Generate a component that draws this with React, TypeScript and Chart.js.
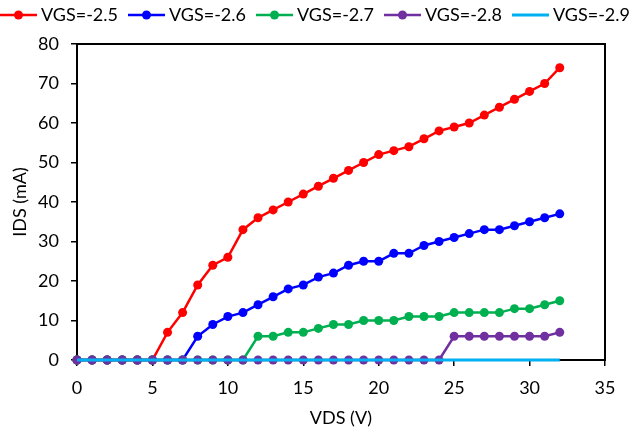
import React, { useEffect, useRef } from "react";
import { Chart, registerables } from "chart.js";

Chart.register(...registerables);

const VDS = [0, 1, 2, 3, 4, 5, 6, 7, 8, 9, 10, 11, 12, 13, 14, 15, 16, 17, 18, 19, 20, 21, 22, 23, 24, 25, 26, 27, 28, 29, 30, 31, 32];
const IDS_25 = [0, 0, 0, 0, 0, 0, 7, 12, 19, 24, 26, 33, 36, 38, 40, 42, 44, 46, 48, 50, 52, 53, 54, 56, 58, 59, 60, 62, 64, 66, 68, 70, 74];
const IDS_26 = [0, 0, 0, 0, 0, 0, 0, 0, 6, 9, 11, 12, 14, 16, 18, 19, 21, 22, 24, 25, 25, 27, 27, 29, 30, 31, 32, 33, 33, 34, 35, 36, 37];
const IDS_27 = [0, 0, 0, 0, 0, 0, 0, 0, 0, 0, 0, 0, 6, 6, 7, 7, 8, 9, 9, 10, 10, 10, 11, 11, 11, 12, 12, 12, 12, 13, 13, 14, 15];
const IDS_28 = [0, 0, 0, 0, 0, 0, 0, 0, 0, 0, 0, 0, 0, 0, 0, 0, 0, 0, 0, 0, 0, 0, 0, 0, 0, 6, 6, 6, 6, 6, 6, 6, 7];
const IDS_29 = [0, 0, 0, 0, 0, 0, 0, 0, 0, 0, 0, 0, 0, 0, 0, 0, 0, 0, 0, 0, 0, 0, 0, 0, 0, 0, 0, 0, 0, 0, 0, 0, 0];

const SERIES_LABELS = ["VGS=-2.5", "VGS=-2.6", "VGS=-2.7", "VGS=-2.8", "VGS=-2.9"];
const SERIES_COLORS = ["#FF0000", "#0000FF", "#00B050", "#7030A0", "#00B0F0"];
const SERIES_VALUES = [IDS_25, IDS_26, IDS_27, IDS_28, IDS_29];
const SERIES_MARKERS = [true, true, true, true, false];

const X_TICKS = [0, 5, 10, 15, 20, 25, 30, 35];
const Y_TICKS = [0, 10, 20, 30, 40, 50, 60, 70, 80];

const FONT = "Lato";

function legendImage(color: string, marker: boolean): HTMLCanvasElement {
  const c = document.createElement("canvas");
  c.width = 52;
  c.height = 12;
  const ctx = c.getContext("2d")!;
  ctx.strokeStyle = color;
  ctx.lineWidth = marker ? 2.5 : 3;
  ctx.beginPath();
  ctx.moveTo(15, 6);
  ctx.lineTo(52, 6);
  ctx.stroke();
  if (marker) {
    ctx.fillStyle = color;
    ctx.beginPath();
    ctx.arc(33.5, 6, 4.5, 0, Math.PI * 2);
    ctx.fill();
  }
  return c;
}

export default function App() {
  const ref = useRef<HTMLCanvasElement | null>(null);

  useEffect(() => {
    document.body.style.margin = "0";
    if (!ref.current) return;
    const images = SERIES_COLORS.map((c, i) => legendImage(c, SERIES_MARKERS[i]));
    const datasets = SERIES_LABELS.map((label, i) => ({
      label,
      data: VDS.map((x, j) => ({ x, y: SERIES_VALUES[i][j] })),
      borderColor: SERIES_COLORS[i],
      backgroundColor: SERIES_COLORS[i],
      borderWidth: SERIES_MARKERS[i] ? 2.5 : 3,
      pointRadius: SERIES_MARKERS[i] ? 4.5 : 0,
      pointBorderWidth: 0,
      pointHoverRadius: SERIES_MARKERS[i] ? 4.5 : 0,
      tension: 0,
      clip: false as any,
      order: SERIES_LABELS.length - 1 - i,
    }));

    const axisFont = { family: FONT, size: 18 };

    const chart = new Chart(ref.current, {
      type: "line",
      data: { datasets },
      options: {
        animation: false,
        responsive: false,
        devicePixelRatio: 1,
        layout: { padding: { left: -10, top: 6, right: -30, bottom: 0 } },
        plugins: {
          tooltip: { enabled: false },
          legend: {
            display: true,
            position: "top",
            align: "start",
            labels: {
              usePointStyle: true,
              pointStyleWidth: 42,
              padding: 0,
              color: "#000",
              font: { family: FONT, size: 18 },
              generateLabels: (ch: any) =>
                ch.data.datasets.map((ds: any, i: number) => ({
                  text: ds.label,
                  fillStyle: SERIES_COLORS[i],
                  strokeStyle: SERIES_COLORS[i],
                  lineWidth: 0,
                  pointStyle: images[i],
                  hidden: false,
                  datasetIndex: i,
                  fontColor: "#000",
                })),
            },
          },
        },
        scales: {
          x: {
            type: "linear",
            position: "bottom",
            min: 0,
            max: 35,
            afterBuildTicks: (s: any) => {
              s.ticks = X_TICKS.map((v) => ({ value: v }));
            },
            afterFit: (s: any) => {
              s.height = 73;
            },
            grid: { drawOnChartArea: false, drawTicks: true, tickLength: 6, color: "#000", lineWidth: 1.5 },
            border: { display: true, color: "#000", width: 2 },
            ticks: { color: "#000", font: axisFont, padding: 11, maxRotation: 0 },
            title: { display: true, text: "VDS (V)", color: "#000", font: axisFont, padding: { top: 0, bottom: 4 } },
          },
          x2: {
            type: "linear",
            position: "top",
            min: 0,
            max: 35,
            afterFit: (s: any) => {
              s.height = 10;
            },
            grid: { display: false },
            ticks: { display: false },
            border: { display: true, color: "#000", width: 2 },
          },
          y: {
            type: "linear",
            position: "left",
            min: 0,
            max: 80,
            afterBuildTicks: (s: any) => {
              s.ticks = Y_TICKS.map((v) => ({ value: v }));
            },
            afterFit: (s: any) => {
              s.width = 87;
            },
            grid: { drawOnChartArea: false, drawTicks: true, tickLength: 6, color: "#000", lineWidth: 1.5 },
            border: { display: true, color: "#000", width: 2 },
            ticks: { color: "#000", font: axisFont, padding: 12 },
            title: { display: true, text: "IDS (mA)", color: "#000", font: axisFont, padding: { top: 19, bottom: 0 } },
          },
          y2: {
            type: "linear",
            position: "right",
            min: 0,
            max: 80,
            afterFit: (s: any) => {
              s.width = 54;
            },
            grid: { display: false },
            ticks: { display: false },
            border: { display: true, color: "#000", width: 2 },
          },
        },
      } as any,
    });
    return () => chart.destroy();
  }, []);

  return (
    <div style={{ width: 629, height: 433 }}>
      <canvas ref={ref} width={629} height={433} style={{ width: 629, height: 433, display: "block" }} />
    </div>
  );
}
